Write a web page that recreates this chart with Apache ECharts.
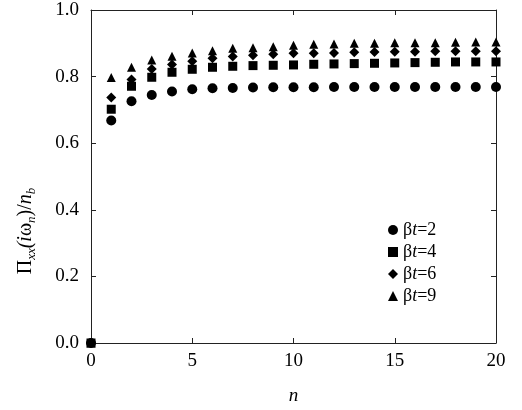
<!DOCTYPE html>
<html><head><meta charset="utf-8">
<script src="https://cdn.jsdelivr.net/npm/echarts@6/dist/echarts.min.js"></script>
<style>html,body{margin:0;padding:0;background:#fff}#c{width:522px;height:410px}</style>
</head><body><div id="c"></div>
<script>
var nValues = [0,1,2,3,4,5,6,7,8,9,10,11,12,13,14,15,16,17,18,19,20];
var seriesNames = ['βt=2','βt=4','βt=6','βt=9'];
var bt2 = [0,0.668,0.726,0.745,0.755,0.762,0.765,0.766,0.767,0.768,0.768,0.768,0.769,0.769,0.769,0.769,0.769,0.769,0.769,0.769,0.769];
var bt4 = [0,0.702,0.771,0.798,0.813,0.822,0.828,0.831,0.833,0.834,0.835,0.837,0.838,0.839,0.840,0.841,0.842,0.843,0.844,0.844,0.844];
var bt6 = [0,0.737,0.791,0.823,0.836,0.846,0.855,0.860,0.864,0.867,0.870,0.870,0.871,0.873,0.874,0.875,0.875,0.876,0.876,0.876,0.876];
var bt9 = [0,0.797,0.828,0.850,0.861,0.871,0.878,0.885,0.887,0.890,0.894,0.897,0.898,0.900,0.900,0.902,0.902,0.902,0.903,0.904,0.904];
var xTicks = [0,5,10,15,20];
var yTicks = [0,0.2,0.4,0.6,0.8,1.0];

var font = 'Liberation Serif';
var chart = echarts.init(document.getElementById('c'));
function pairs(arr){ return arr.map(function(v,i){ return [nValues[i], v]; }); }
var symbols = ['circle','rect','diamond','triangle'];
var sizes = [10,9,10,9];
var datas = [bt2,bt4,bt6,bt9];
var axisLine = {show:true, onZero:false, lineStyle:{color:'#222', width:1}};
var tick = {show:true, inside:true, length:5, lineStyle:{color:'#222'}};
var series = datas.map(function(d,k){
  return {type:'scatter', name:seriesNames[k], data:pairs(d), symbol:symbols[k], symbolSize:sizes[k],
    itemStyle:{color:'#000', opacity:1}, clip:false, xAxisIndex:0, yAxisIndex:0, z:2+k};
});
chart.setOption({
  animation:false,
  backgroundColor:'#fff',
  grid:{left:91, right:26, top:10, bottom:63},
  legend:{orient:'vertical', left:383, top:216, itemGap:4, itemWidth:10, itemHeight:10,
    data:seriesNames.map(function(n,k){return {name:n, icon:symbols[k]};}),
    formatter:function(name){ return '{g|β}{i|t}{g|'+name.slice(2)+'}'; },
    textStyle:{fontFamily:font, fontSize:18, color:'#000',
      rich:{g:{fontFamily:font,fontSize:18,color:'#000'}, i:{fontFamily:font,fontSize:18,fontStyle:'italic',color:'#000'}}},
    itemStyle:{color:'#000', opacity:1}},
  xAxis:[
    {type:'value', min:xTicks[0], max:xTicks[xTicks.length-1], interval:5, position:'bottom',
     axisLine:axisLine, axisTick:tick, splitLine:{show:false},
     axisLabel:{fontFamily:font, fontSize:19, color:'#000', margin:9},
     name:'n', nameLocation:'middle', nameGap:43,
     nameTextStyle:{fontFamily:font, fontSize:19, fontStyle:'italic', color:'#000'}},
    {type:'value', min:0, max:20, interval:5, position:'top',
     axisLine:axisLine, axisTick:tick, splitLine:{show:false}, axisLabel:{show:false}}
  ],
  yAxis:[
    {type:'value', min:yTicks[0], max:yTicks[yTicks.length-1], interval:0.2, position:'left',
     axisLine:axisLine, axisTick:tick, splitLine:{show:false},
     axisLabel:{fontFamily:font, fontSize:19, color:'#000', margin:12, formatter:function(v){return v.toFixed(1);}}},
    {type:'value', min:0, max:1, interval:0.2, position:'right',
     axisLine:axisLine, axisTick:tick, splitLine:{show:false}, axisLabel:{show:false}}
  ],
  graphic:[{
    type:'text', x:26, y:231, rotation:Math.PI/2,
    style:{
      text:'{n|Π}{s|xx}{i|(i}{n|ω}{s|n}{n|)/}{i|n}{s|b}',
      align:'center', verticalAlign:'middle',
      fontFamily:font, fontSize:20, fill:'#000',
      rich:{
        n:{fontFamily:font, fontSize:20, fill:'#000', lineHeight:24, verticalAlign:'middle'},
        i:{fontFamily:font, fontSize:20, fontStyle:'italic', fill:'#000', lineHeight:24, verticalAlign:'middle'},
        s:{fontFamily:font, fontSize:13, fontStyle:'italic', fill:'#000', lineHeight:24, verticalAlign:'bottom', padding:[6,0,0,0]}
      }
    }
  }],
  series:series
});
</script></body></html>
